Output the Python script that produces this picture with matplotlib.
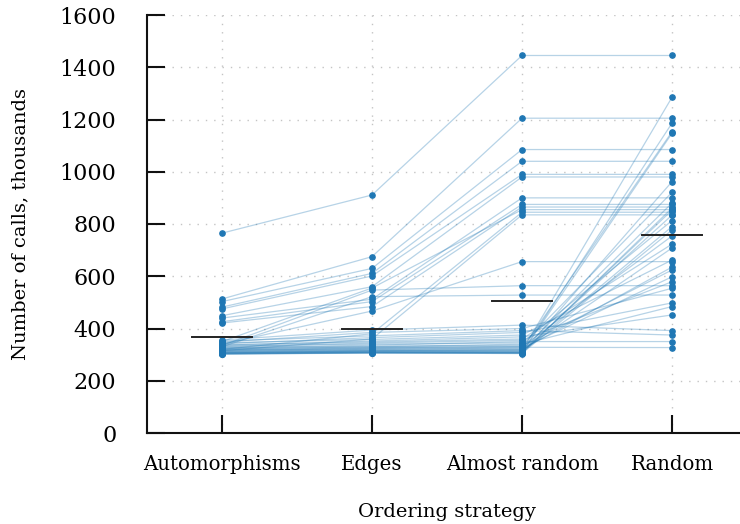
import matplotlib
matplotlib.use("Agg")
import matplotlib.pyplot as plt
import numpy as np

categories = ["Automorphisms", "Edges", "Almost random", "Random"]

# per-instance values (thousands of calls) for each ordering strategy
automorphisms = [765, 513, 503, 482, 475, 449, 440, 426, 421, 350, 340, 335, 330, 320, 315,
                 356, 352, 348, 345, 342, 338, 336, 333, 331, 328, 326, 324, 322, 320, 318,
                 317, 315, 313, 312, 310, 309, 308, 307, 306, 305, 304, 303, 302, 302]
edges = [911, 675, 630, 611, 601, 560, 512, 503, 484, 555, 467, 547, 522, 380, 360,
         394, 372, 385, 358, 365, 348, 352, 340, 344, 332, 336, 328, 330, 322, 326,
         318, 324, 316, 320, 312, 315, 310, 314, 308, 311, 306, 309, 307, 306]
almost_random = [1445, 1205, 1085, 1040, 990, 980, 900, 875, 865, 855, 656, 564, 528, 845, 835,
                 413, 392, 400, 375, 385, 360, 368, 345, 355, 336, 350, 330, 340, 322, 332,
                 318, 328, 314, 325, 310, 320, 308, 316, 306, 312, 305, 309, 304, 307]
random_order = [1445, 1205, 1085, 1040, 990, 980, 900, 875, 865, 855, 656, 564, 528, 845, 835,
                392, 375, 554, 662, 498, 723, 452, 813, 579, 921, 350, 754, 484, 1153, 624,
                880, 327, 1285, 598, 790, 635, 1147, 708, 962, 834, 777, 1186, 861, 853]

# horizontal summary marks
summary = [367, 400, 505, 758]

color = "#1f77b4"
plt.rcParams["font.family"] = ["DejaVu Serif"]

fig = plt.figure(figsize=(7.4, 5.24), dpi=100)
ax = fig.add_axes([147/740, 91/524, 600/740, 418/524])

data = np.array([automorphisms, edges, almost_random, random_order], dtype=float)
xs = np.arange(len(categories))

for i in range(data.shape[1]):
    ax.plot(xs, data[:, i], color=color, alpha=0.32, lw=0.9, zorder=2)
for j in range(len(categories)):
    ax.plot(np.full(data.shape[1], xs[j]), data[j], 'o', color=color, ms=3.8,
            mec=color, zorder=3)
    ax.plot([xs[j] - 0.2, xs[j] + 0.2], [summary[j], summary[j]], color="#222222",
            lw=1.4, zorder=4)

ax.set_xlim(-0.5, 3.5)
ax.set_ylim(0, 1600)
ax.set_xticks(xs)
ax.set_xticklabels(categories)
ax.set_yticks(np.arange(0, 1601, 200))

ax.grid(True, linestyle=(0, (1, 5)), color="#c4c4c4", lw=1.0, zorder=0)
ax.set_axisbelow(True)

for s in ["top", "right"]:
    ax.spines[s].set_visible(False)
for s in ["left", "bottom"]:
    ax.spines[s].set_linewidth(1.5)
    ax.spines[s].set_color("#111111")

ax.tick_params(axis="both", direction="in", length=13, width=1.5, color="#111111")
ax.tick_params(axis="y", pad=22, labelsize=16)
ax.tick_params(axis="x", pad=16, labelsize=14.2)

ax.set_ylabel("Number of calls, thousands", fontsize=14, labelpad=22)
ax.set_xlabel("Ordering strategy", fontsize=14, labelpad=21)

fig.savefig("out.png", dpi=100)
